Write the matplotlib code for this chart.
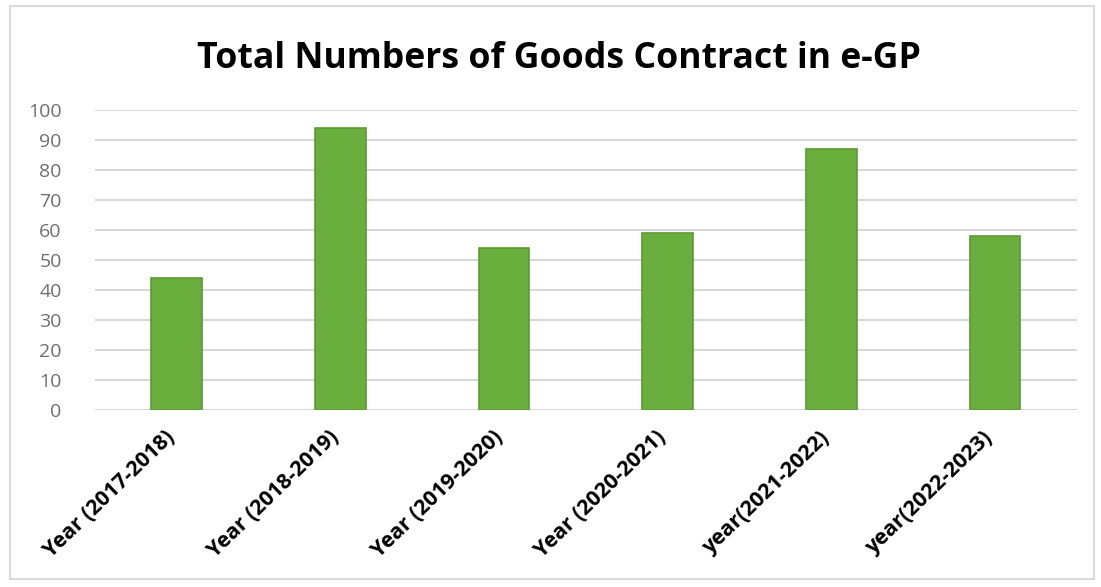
import matplotlib
matplotlib.use("Agg")
import matplotlib.pyplot as plt
import matplotlib.transforms as mtransforms
from matplotlib.patches import Rectangle

categories = ["Year (2017-2018)", "Year (2018-2019)", "Year (2019-2020)",
              "Year (2020-2021)", "year(2021-2022)", "year(2022-2023)"]
contracts = [44, 94, 54, 59, 87, 58]
yticks = [0, 10, 20, 30, 40, 50, 60, 70, 80, 90, 100]

fig = plt.figure(figsize=(11.01, 5.87), dpi=100)
ax = fig.add_axes([0.0863, 0.3015, 0.8917, 0.5111])

x = range(len(categories))
ax.bar(x, contracts, width=0.31, color="#6aae3e", edgecolor="#5b9a33",
       linewidth=1.2, zorder=3)

ax.set_xlim(-0.5, len(categories) - 0.5)
ax.set_ylim(0, 100)
ax.set_yticks(yticks)
ax.set_yticklabels([str(v) for v in yticks], color="#6f6f6f",
                   fontsize=14, family="Open Sans")
ax.set_xticks(list(x))
ax.set_xticklabels(categories, rotation=44, ha="right",
                   rotation_mode="anchor", fontsize=15.5,
                   fontweight="bold", family="Open Sans")
ax.tick_params(axis="both", length=0)
ax.tick_params(axis="y", pad=24)
ax.tick_params(axis="x", pad=12)
# nudge the rotated labels a bit to the left, as in the original
shift = mtransforms.ScaledTranslation(-0.12, 0, fig.dpi_scale_trans)
for lbl in ax.get_xticklabels():
    lbl.set_transform(lbl.get_transform() + shift)
ax.grid(axis="y", color="#d0d0d0", linewidth=1.2, zorder=0)
for s in ax.spines.values():
    s.set_visible(False)

fig.text(0.508, 0.90, "Total Numbers of Goods Contract in e-GP",
         ha="center", va="center", fontsize=25.7, fontweight="bold",
         family="Open Sans")

fig.patches.append(Rectangle((0.009, 0.014), 0.985, 0.975,
                             transform=fig.transFigure, fill=False,
                             edgecolor="#d9d9d9", linewidth=1.5))

fig.savefig("out.png", dpi=100)
